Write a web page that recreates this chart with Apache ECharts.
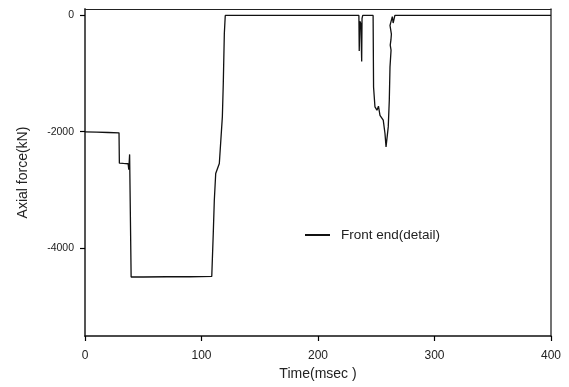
<!DOCTYPE html>
<html>
<head>
<meta charset="utf-8">
<script src="https://cdn.jsdelivr.net/npm/echarts@6/dist/echarts.min.js"></script>
<style>
  html, body { margin: 0; padding: 0; background: #fff; }
  #chart { width: 569px; height: 387px; }
</style>
</head>
<body>
<div id="chart"></div>
<script>
// Axial force history at the front end (detail), time in msec, force in kN
const timeMs = [
  0, 10, 20, 29.2, 29.5, 33, 37.0, 37.6, 38.3, 39.3, 39.6,
  50, 70, 90, 108.8, 110.1, 111.0, 112.2, 115.3, 117.9, 118.7, 119.6, 120.4,
  150, 200, 235.1, 235.4, 235.9, 236.8, 237.5, 237.8, 238.4,
  247.3, 247.7, 248.9, 250.6, 251.9, 253.2, 256.0, 257.5, 258.4, 259.5,
  260.3, 261.2, 261.8, 262.7, 262.0, 262.6, 263.0, 262.0, 261.8, 263.3,
  263.8, 264.5, 266.0, 300, 350, 400
];
const axialForce = [
  -2005, -2010, -2015, -2020, -2540, -2545, -2550, -2650, -2390, -2400, -4490,
  -4490, -4485, -4485, -4480, -3746, -3175, -2718, -2546, -1748, -1175, -319, -10,
  -10, -10, -10, -620, -110, -150, -800, -60, -10,
  -10, -1240, -1577, -1633, -1565, -1720, -1804, -2032, -2262, -2262,
  -1919, -1462, -891, -605, -520, -430, -330, -300, -180, -150,
  -30, -140, -10, -10, -10, -10
];
const yTicks = [0, -2000, -4000];
const seriesName = 'Front end(detail)';

const points = timeMs.map((t, i) => [t, axialForce[i]]);

// plain axis used only as the top/right frame of the plot
const frameAxis = {
  type: 'value',
  axisLine: { show: true, onZero: false, lineStyle: { color: '#222', width: 1 } },
  axisTick: { show: false },
  axisLabel: { show: false },
  splitLine: { show: false }
};

const chart = echarts.init(document.getElementById('chart'));
chart.setOption({
  animation: false,
  backgroundColor: '#fff',
  grid: {
    left: 85, right: 18, top: 9, bottom: 51,
    outerBoundsMode: 'none'
  },
  legend: {
    left: 305, top: 228, padding: 0,
    itemWidth: 25, itemHeight: 2, icon: 'rect',
    data: [seriesName],
    textStyle: {
      fontFamily: 'Liberation Sans', fontSize: 13.5, color: '#222',
      padding: [0, 0, 0, 6]
    }
  },
  xAxis: [{
    type: 'value', position: 'bottom', min: 0, max: 400, interval: 100,
    name: 'Time(msec )', nameLocation: 'middle', nameGap: 30,
    nameTextStyle: { fontFamily: 'Liberation Sans', fontSize: 14, color: '#222' },
    axisLine: { show: true, onZero: false, lineStyle: { color: '#111', width: 1.5 } },
    axisTick: { show: true, length: 5, inside: false, lineStyle: { color: '#000', width: 1.2 } },
    axisLabel: { fontFamily: 'Liberation Sans', fontSize: 12, color: '#222', margin: 14 },
    splitLine: { show: false }
  }, Object.assign({ position: 'top', min: 0, max: 400 }, frameAxis)],
  yAxis: [{
    type: 'value', position: 'left', min: -5500, max: 100,
    name: 'Axial force(kN)', nameLocation: 'middle', nameGap: 55,
    nameTextStyle: { fontFamily: 'Liberation Sans', fontSize: 14, color: '#222' },
    axisLine: { show: true, onZero: false, lineStyle: { color: '#555', width: 2 } },
    axisTick: { show: true, length: 5, inside: false, lineStyle: { color: '#000', width: 1.2 }, customValues: yTicks },
    axisLabel: {
      fontFamily: 'Liberation Sans', fontSize: 10.5, color: '#222', margin: 11,
      customValues: yTicks,
      formatter: v => String(v)
    },
    splitLine: { show: false }
  }, Object.assign({ position: 'right', min: -5500, max: 100 }, frameAxis, {
    axisLine: { show: true, onZero: false, lineStyle: { color: '#444', width: 1.5 } }
  })],
  series: [{
    name: seriesName,
    type: 'line',
    xAxisIndex: 0, yAxisIndex: 0,
    data: points,
    symbol: 'none',
    lineStyle: { color: '#111', width: 1.3 },
    itemStyle: { color: '#111' }
  }]
});
</script>
</body>
</html>
